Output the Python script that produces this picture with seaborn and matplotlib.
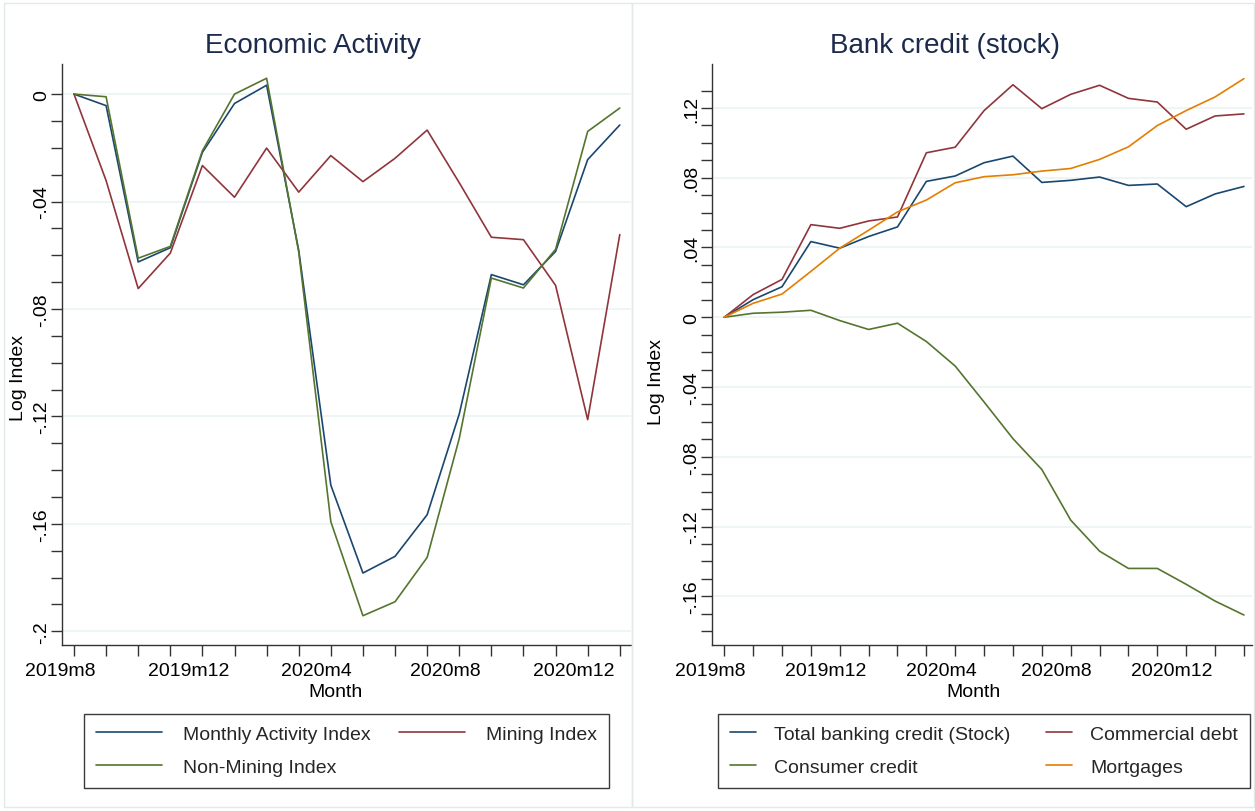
import matplotlib
matplotlib.use("Agg")
import matplotlib.pyplot as plt
import matplotlib.transforms as mtransforms
from matplotlib.lines import Line2D
from matplotlib.patches import Rectangle
from matplotlib.ticker import FixedLocator
import numpy as np
import pandas as pd
import seaborn as sns

# ---------------------------------------------------------------- data
activity_months = ["2019m8", "2019m9", "2019m10", "2019m11", "2019m12", "2020m1",
                   "2020m2", "2020m3", "2020m4", "2020m5", "2020m6", "2020m7",
                   "2020m8", "2020m9", "2020m10", "2020m11", "2020m12", "2021m1"]
credit_months = activity_months + ["2021m2"]

monthly_activity = [0.0, -0.0043, -0.0625, -0.0572, -0.0217, -0.0035, 0.0033, -0.0582,
                    -0.1456, -0.1783, -0.1721, -0.1566, -0.1191, -0.0672, -0.0710,
                    -0.0586, -0.0244, -0.0115]
mining_index = [0.0, -0.0322, -0.0724, -0.0592, -0.0266, -0.0384, -0.0201, -0.0365,
                -0.0229, -0.0326, -0.0239, -0.0134, -0.0330, -0.0533, -0.0542,
                -0.0712, -0.1212, -0.0523]
non_mining_index = [0.0, -0.0010, -0.0611, -0.0567, -0.0211, 0.0000, 0.0059, -0.0588,
                    -0.1592, -0.1942, -0.1890, -0.1725, -0.1282, -0.0685, -0.0722,
                    -0.0578, -0.0139, -0.0052]

total_credit = [0.0, 0.0101, 0.0175, 0.0434, 0.0396, 0.0463, 0.0518, 0.0779, 0.0810,
                0.0886, 0.0924, 0.0773, 0.0785, 0.0804, 0.0756, 0.0764, 0.0634,
                0.0707, 0.0750]
commercial_debt = [0.0, 0.0130, 0.0217, 0.0531, 0.0510, 0.0552, 0.0575, 0.0943, 0.0975,
                   0.1185, 0.1333, 0.1196, 0.1278, 0.1330, 0.1255, 0.1234, 0.1078,
                   0.1154, 0.1166]
consumer_credit = [0.0, 0.0023, 0.0029, 0.0040, -0.0019, -0.0070, -0.0034, -0.0139,
                   -0.0280, -0.0486, -0.0696, -0.0873, -0.1163, -0.1341, -0.1440,
                   -0.1440, -0.1531, -0.1627, -0.1707]
mortgages = [0.0, 0.0080, 0.0133, 0.0263, 0.0396, 0.0499, 0.0604, 0.0672, 0.0771,
             0.0806, 0.0817, 0.0838, 0.0853, 0.0905, 0.0977, 0.1099, 0.1185,
             0.1263, 0.1368]

activity_series = ["Monthly Activity Index", "Mining Index", "Non-Mining Index"]
credit_series = ["Total banking credit (Stock)", "Commercial debt",
                 "Consumer credit", "Mortgages"]

x_label_months = ["2019m8", "2019m12", "2020m4", "2020m8", "2020m12"]
left_yticks = [0.0, -0.04, -0.08, -0.12, -0.16, -0.20]
left_ylabels = ["0", "-.04", "-.08", "-.12", "-.16", "-.2"]
right_yticks = [-0.16, -0.12, -0.08, -0.04, 0.0, 0.04, 0.08, 0.12]
right_ylabels = ["-.16", "-.12", "-.08", "-.04", "0", ".04", ".08", ".12"]

# Stata s2color palette
NAVY, MAROON, FOREST, DKORANGE = "#1a476f", "#90353b", "#55752f", "#e37e00"
GRID = "#eaf2f3"
AXIS = "#333333"
TITLE = "#1c2b4c"

# ---------------------------------------------------------------- style
sns.set_theme(style="white")
plt.rcParams["font.family"] = ["Liberation Sans", "DejaVu Sans"]

W, H = 1255, 812
fig = plt.figure(figsize=(W / 100, H / 100), dpi=100)
fig.patch.set_facecolor("white")


def px_rect(x0, y0, x1, y1):
    return [x0 / W, 1 - y1 / H, (x1 - x0) / W, (y1 - y0) / H]


# panel frames of the combined graph
for (x0, x1) in [(4, 632), (632, 1254)]:
    fig.patches.append(Rectangle((x0 / W, 4 / H), (x1 - x0) / W, (H - 8) / H,
                                 transform=fig.transFigure, fill=False,
                                 edgecolor="#e3e8ea", linewidth=1.0))

ax1 = fig.add_axes(px_rect(62.3, 65, 630.7, 646))
ax2 = fig.add_axes(px_rect(712.3, 65, 1252, 646))

# ---------------------------------------------------------------- long tables
act_idx = np.arange(len(activity_months))
cred_idx = np.arange(len(credit_months))

activity_df = pd.concat([
    pd.DataFrame({"t": act_idx, "value": vals, "series": name})
    for name, vals in zip(activity_series,
                          [monthly_activity, mining_index, non_mining_index])
], ignore_index=True)

credit_df = pd.concat([
    pd.DataFrame({"t": cred_idx, "value": vals, "series": name})
    for name, vals in zip(credit_series,
                          [total_credit, commercial_debt, consumer_credit, mortgages])
], ignore_index=True)

act_colors = [NAVY, MAROON, FOREST]
cred_colors = [NAVY, MAROON, FOREST, DKORANGE]

sns.lineplot(data=activity_df, x="t", y="value", hue="series",
             hue_order=activity_series, palette=act_colors, estimator=None,
             sort=False, linewidth=1.2, legend=False, ax=ax1)
sns.lineplot(data=credit_df, x="t", y="value", hue="series",
             hue_order=credit_series, palette=cred_colors, estimator=None,
             sort=False, linewidth=1.2, legend=False, ax=ax2)

# ---------------------------------------------------------------- axes styling
label_pos = [activity_months.index(m) for m in x_label_months]


def style_axes(ax, n_months, xlim, ylim, yticks, ylabels, yminor):
    ax.set_facecolor("white")
    ax.set_xlim(*xlim)
    ax.set_ylim(*ylim)
    for side in ["top", "right"]:
        ax.spines[side].set_visible(False)
    for side in ["left", "bottom"]:
        ax.spines[side].set_color(AXIS)
        ax.spines[side].set_linewidth(1.0)

    ax.xaxis.set_major_locator(FixedLocator(label_pos))
    ax.xaxis.set_minor_locator(FixedLocator(range(n_months)))
    ax.set_xticklabels(x_label_months)
    ax.yaxis.set_major_locator(FixedLocator(yticks))
    ax.yaxis.set_minor_locator(FixedLocator(yminor))
    ax.set_yticklabels(ylabels, rotation=90, va="center")

    ax.tick_params(axis="both", which="both", direction="out", length=8,
                   width=1.0, color=AXIS, labelsize=14, labelcolor="black",
                   bottom=True, left=True)
    ax.tick_params(axis="x", which="both", pad=4)
    ax.tick_params(axis="y", which="both", pad=1)

    for v in yticks:
        ax.axhline(v, color=GRID, linewidth=1.1, zorder=0)

    ax.set_xlabel("Month", fontsize=14, color="black")
    ax.set_ylabel("Log Index", fontsize=14, color="black")


left_minor = np.round(np.arange(-0.20, 0.0001, 0.01), 2)
right_minor = np.round(np.arange(-0.18, 0.1301, 0.01), 2)

style_axes(ax1, len(activity_months), (-0.364, 17.34), (-0.2051, 0.0112),
           left_yticks, left_ylabels, left_minor)
style_axes(ax2, len(credit_months), (-0.415, 18.28), (-0.1879, 0.1452),
           right_yticks, right_ylabels, right_minor)

# axis titles placed in pixel positions
ax1.xaxis.set_label_coords((336 - 62.3) / (630.7 - 62.3), -(684 - 646) / (646 - 65))
ax2.xaxis.set_label_coords((973 - 712.3) / (1252 - 712.3), -(684 - 646) / (646 - 65))
ax1.yaxis.set_label_coords(-(62.3 - 27) / (630.7 - 62.3), (646 - 378) / (646 - 65))
ax2.yaxis.set_label_coords(-(712.3 - 665) / (1252 - 712.3), (646 - 382) / (646 - 65))

# panel titles centred on each panel
fig.text(313 / W, 1 - 46 / H, "Economic Activity", ha="center", va="center",
         fontsize=20, color=TITLE)
fig.text(945 / W, 1 - 46 / H, "Bank credit (stock)", ha="center", va="center",
         fontsize=20, color=TITLE)

# ---------------------------------------------------------------- legends
def make_legend(ax, names, colors, order, box, handlelength, handletextpad):
    handles = [Line2D([0], [0], color=colors[i], linewidth=1.2) for i in order]
    labels = [names[i] for i in order]
    x0, y0, x1, y1 = box
    leg = ax.legend(handles, labels, ncol=2, mode="expand",
                    loc="upper left",
                    bbox_to_anchor=(x0 / W, 1 - y1 / H, (x1 - x0) / W, (y1 - y0) / H),
                    bbox_transform=fig.transFigure, frameon=True, fancybox=False,
                    shadow=False, fontsize=14, handlelength=handlelength,
                    handletextpad=handletextpad, labelspacing=0.78,
                    borderpad=0.6, borderaxespad=0.0, columnspacing=1.5)
    frame = leg.get_frame()
    frame.set_edgecolor("#3a3a3a")
    frame.set_linewidth(1.0)
    frame.set_facecolor("white")
    frame.set_alpha(1.0)
    return leg


make_legend(ax1, activity_series, act_colors, [0, 2, 1],
            (84, 715, 609, 786), 3.4, 1.1)
make_legend(ax2, credit_series, cred_colors, [0, 2, 1, 3],
            (718, 715, 1250, 786), 1.35, 0.95)

# month labels sit slightly left of their ticks
shift = mtransforms.ScaledTranslation(-14 / 100, 0, fig.dpi_scale_trans)
for ax in (ax1, ax2):
    for lab in ax.get_xticklabels():
        lab.set_transform(lab.get_transform() + shift)

fig.savefig("out.png", dpi=100, facecolor="white")
